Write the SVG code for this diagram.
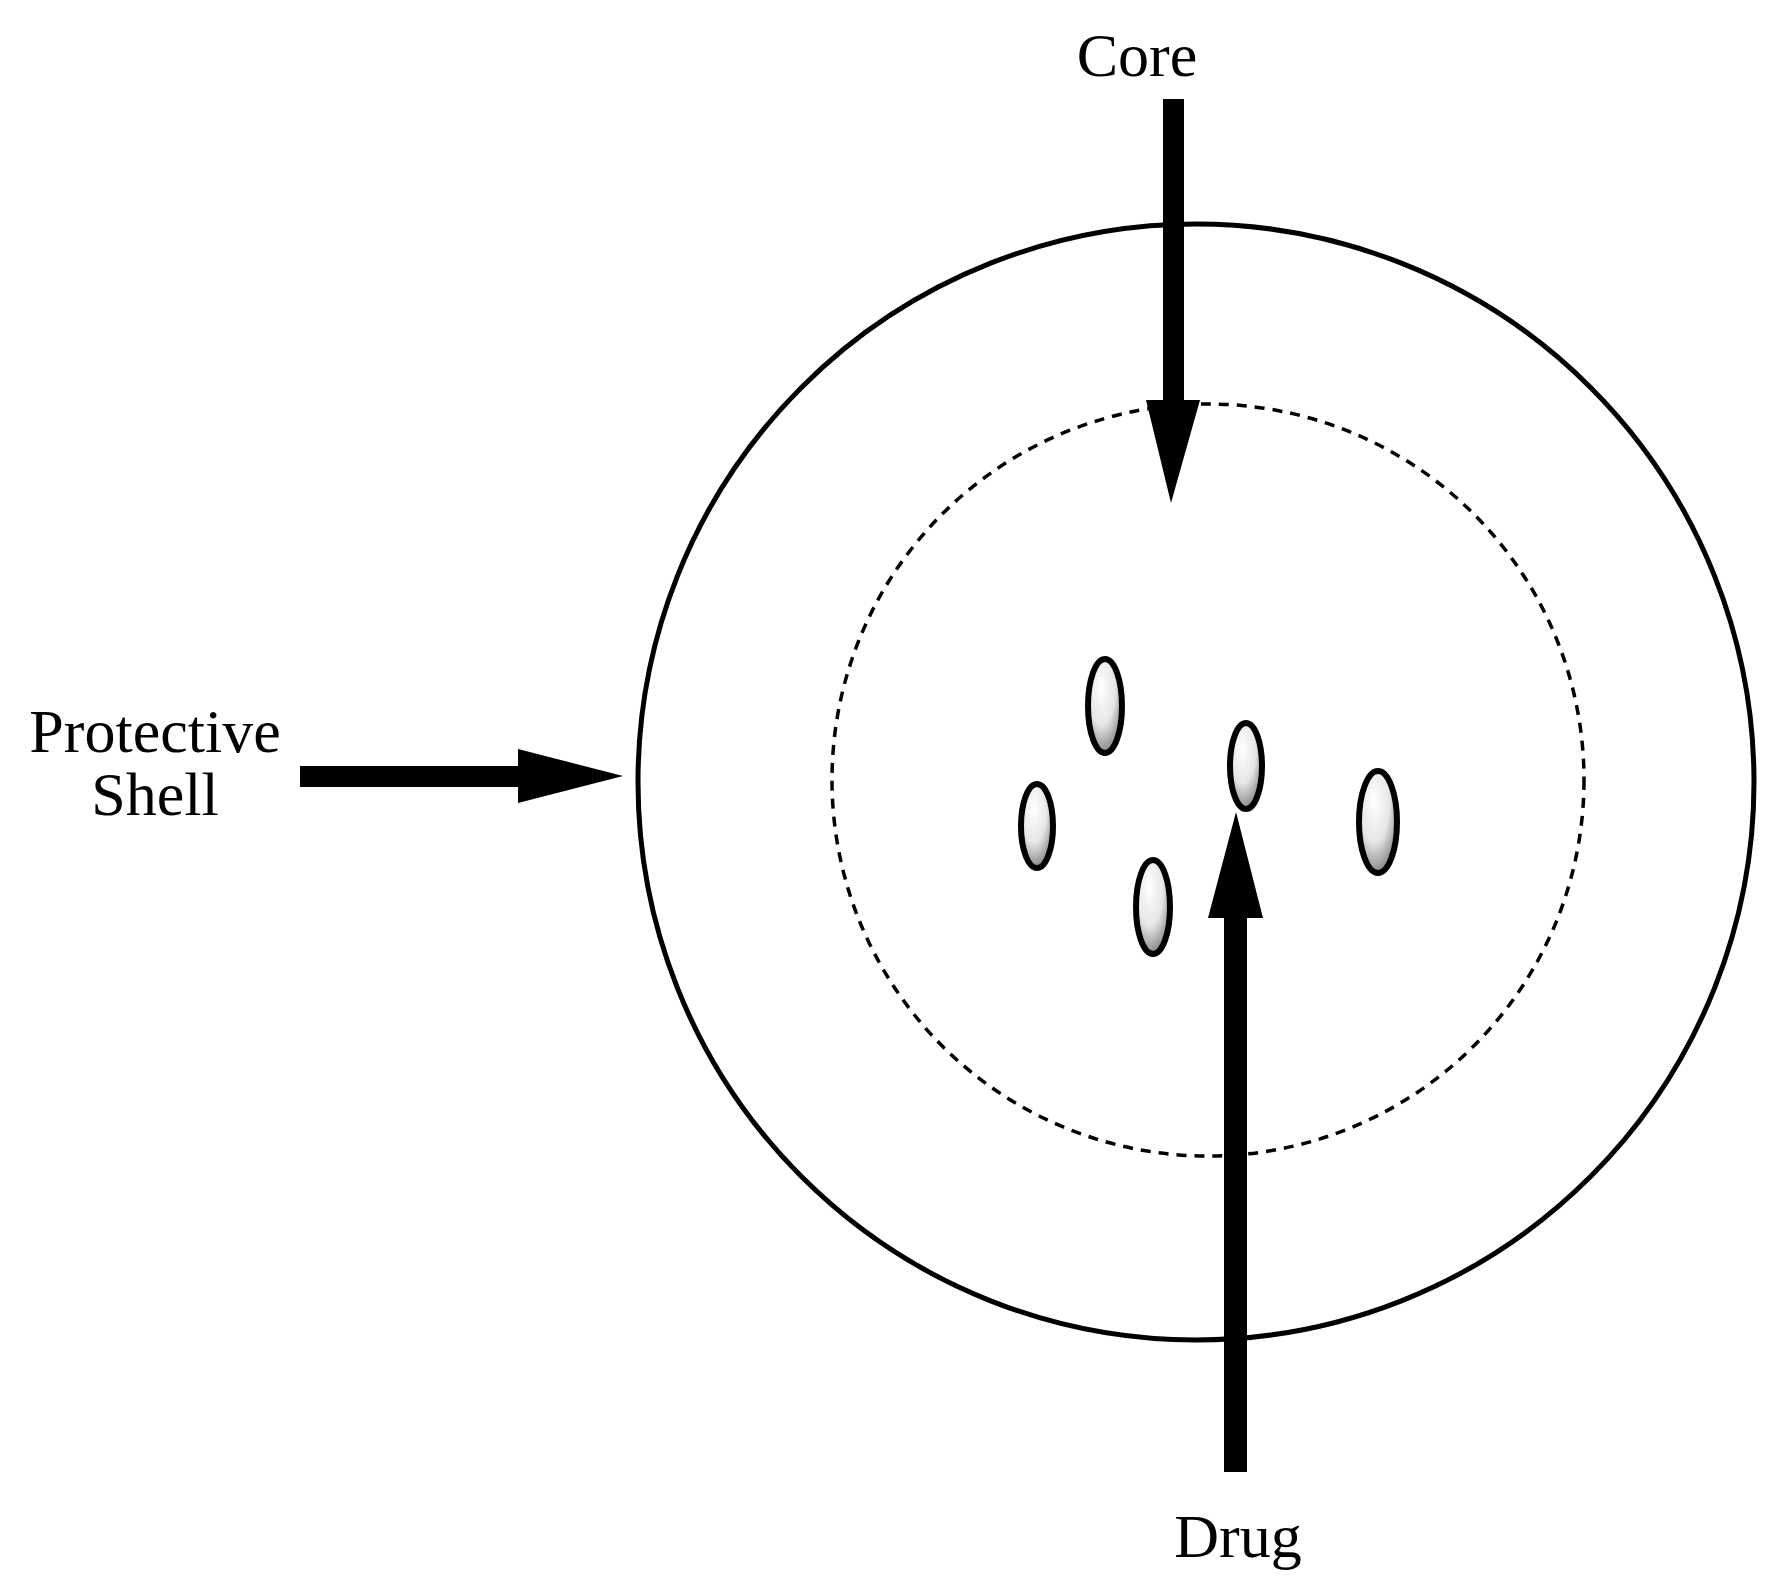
<svg xmlns="http://www.w3.org/2000/svg" width="1783" height="1590" viewBox="0 0 1783 1590">
<style>
text{font-family:"Liberation Serif","Times New Roman",serif;font-size:62px;fill:#000;text-anchor:middle}
.drop{stroke:#000;stroke-width:6}
</style>
<defs>
<radialGradient id="g" cx="0.4" cy="0.3" r="0.8">
<stop offset="0" stop-color="#fff"/><stop offset="0.5" stop-color="#e6e6e6"/><stop offset="1" stop-color="#6a6a6a"/>
</radialGradient>
</defs>
<rect width="1783" height="1590" fill="#fff"/>
<g id="shell"><circle cx="1196" cy="782" r="558" fill="none" stroke="#000" stroke-width="5"/></g>
<g id="core"><circle cx="1208" cy="780" r="376" fill="none" stroke="#000" stroke-width="3.5" stroke-dasharray="10 8"/></g>
<g id="drugs" fill="url(#g)">
<ellipse class="drop" cx="1105" cy="706" rx="17" ry="47"/>
<ellipse class="drop" cx="1037" cy="826" rx="16" ry="42"/>
<ellipse class="drop" cx="1246" cy="766" rx="16" ry="43"/>
<ellipse class="drop" cx="1153" cy="907" rx="17" ry="47"/>
<ellipse class="drop" cx="1378" cy="822" rx="19" ry="51"/>
</g>
<g id="connectors" fill="#000">
<polygon points="1163,99 1184,99 1184,400 1200,400 1171,503 1146,400 1163,400"/>
<polygon points="300,766 518,766 518,749 623,776 518,803 518,787 300,787"/>
<polygon points="1224,1472 1247,1472 1247,918 1263,918 1236,812 1208,918 1224,918"/>
</g>
<g id="labels">
<text x="1137" y="76">Core</text>
<text x="155" y="752">Protective</text>
<text x="155" y="815">Shell</text>
<text x="1238" y="1557">Drug</text>
</g>
</svg>
